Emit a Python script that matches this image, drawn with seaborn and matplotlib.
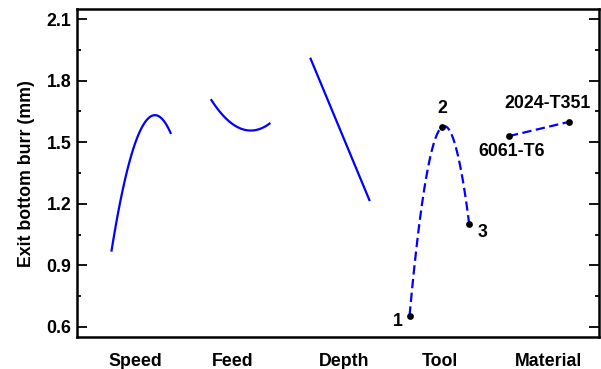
import numpy as np
import pandas as pd
import seaborn as sns
import matplotlib
matplotlib.use("Agg")
import matplotlib.pyplot as plt
from matplotlib.ticker import MultipleLocator, FormatStrFormatter

# ---------------- data ----------------
factors = ["Speed", "Feed", "Depth", "Tool", "Material"]

speed_levels = [-1.0, -0.5, 0.0, 0.5, 1.0]
speed_burr = [0.967, 1.345, 1.565, 1.633, 1.540]

feed_levels = [-1.0, -0.5, 0.0, 0.5, 1.0]
feed_burr = [1.709, 1.620, 1.566, 1.558, 1.595]

depth_levels = [-1.0, -0.5, 0.0, 0.5, 1.0]
depth_burr = [1.914, 1.737, 1.560, 1.388, 1.215]

tool_levels = [-1.0, 0.1, 1.0]
tool_burr = [0.655, 1.576, 1.102]
tool_names = ["1", "2", "3"]

material_levels = [-1.0, 1.0]
material_burr = [1.530, 1.599]
material_names = ["6061-T6", "2024-T351"]

y_ticks = [0.6, 0.9, 1.2, 1.5, 1.8, 2.1]

# ---------------- layout ----------------
half_width = 0.30
label_pos = [-0.062, 0.919, 2.040, 3.006, 4.093]
fs = 12.8

sns.set_style("ticks")
plt.rcParams["font.family"] = ["Liberation Sans", "DejaVu Sans"]
plt.rcParams["font.weight"] = "bold"
plt.rcParams["axes.labelweight"] = "bold"
plt.rcParams["text.color"] = "black"
plt.rcParams["axes.labelcolor"] = "black"
plt.rcParams["xtick.color"] = "black"
plt.rcParams["ytick.color"] = "black"

fig = plt.figure(figsize=(6.01, 3.69), dpi=100)
ax = fig.add_axes([77 / 601, 1 - 337 / 369, (599 - 77) / 601, (337 - 9.3) / 369])

blue = "#0000FF"
solid_kw = dict(color=blue, lw=1.6, solid_capstyle="butt")
dash_kw = dict(color=blue, lw=1.6, ls=(0, (4.2, 2.0)))


def pos(i, levels):
    return [i + half_width * v for v in levels]


sns.regplot(x=pos(0, speed_levels), y=speed_burr, order=2, ci=None,
            scatter=False, truncate=True, line_kws=solid_kw, ax=ax)
sns.regplot(x=pos(1, feed_levels), y=feed_burr, order=2, ci=None,
            scatter=False, truncate=True, line_kws=solid_kw, ax=ax)
sns.regplot(x=pos(2, depth_levels), y=depth_burr, order=1, ci=None,
            scatter=False, truncate=True, line_kws=solid_kw, ax=ax)
sns.regplot(x=pos(3, tool_levels), y=tool_burr, order=2, ci=None,
            scatter=False, truncate=True, line_kws=dash_kw, ax=ax)
sns.regplot(x=pos(4, material_levels), y=material_burr, order=1, ci=None,
            scatter=False, truncate=True, line_kws=dash_kw, ax=ax)

pts = pd.DataFrame({
    "x": pos(3, tool_levels) + pos(4, material_levels),
    "y": tool_burr + material_burr,
})
sns.scatterplot(data=pts, x="x", y="y", color="black", s=24,
                edgecolor="black", linewidth=0, zorder=5, ax=ax)

# point labels (offsets in points)
tool_off = [(-8.6, -4.3), (0, 13), (9.4, -6.5)]
for xv, yv, name, off in zip(pos(3, tool_levels), tool_burr, tool_names, tool_off):
    ax.annotate(name, (xv, yv), xytext=off, textcoords="offset points",
                ha="center", va="center", fontsize=fs, fontweight="bold")
mat_off = [(2.2, -10.8), (-15, 13)]
for xv, yv, name, off in zip(pos(4, material_levels), material_burr, material_names, mat_off):
    ax.annotate(name, (xv, yv), xytext=off, textcoords="offset points",
                ha="center", va="center", fontsize=fs, fontweight="bold")

# axes styling
ax.set_xlim(-0.646, 4.606)
ax.set_ylim(0.551, 2.148)
ax.set_xticks(label_pos)
ax.set_xticklabels(factors, fontsize=fs, fontweight="bold")
ax.tick_params(axis="x", length=0, pad=11.5)
ax.set_yticks(y_ticks)
ax.yaxis.set_minor_locator(MultipleLocator(0.15))
ax.yaxis.set_major_formatter(FormatStrFormatter("%.1f"))
ax.tick_params(axis="y", which="major", direction="in", length=7.5, width=1.3,
               left=True, right=True, labelsize=fs, pad=4)
ax.tick_params(axis="y", which="minor", direction="in", length=3.2, width=1.3,
               left=True, right=True)
for lab in ax.get_yticklabels():
    lab.set_fontweight("bold")
ax.set_ylabel("Exit bottom burr (mm)", fontsize=fs, fontweight="bold", labelpad=8)
ax.set_xlabel("")
for s in ax.spines.values():
    s.set_visible(True)
    s.set_linewidth(1.8)
    s.set_color("black")

fig.savefig("out.png", dpi=100)
